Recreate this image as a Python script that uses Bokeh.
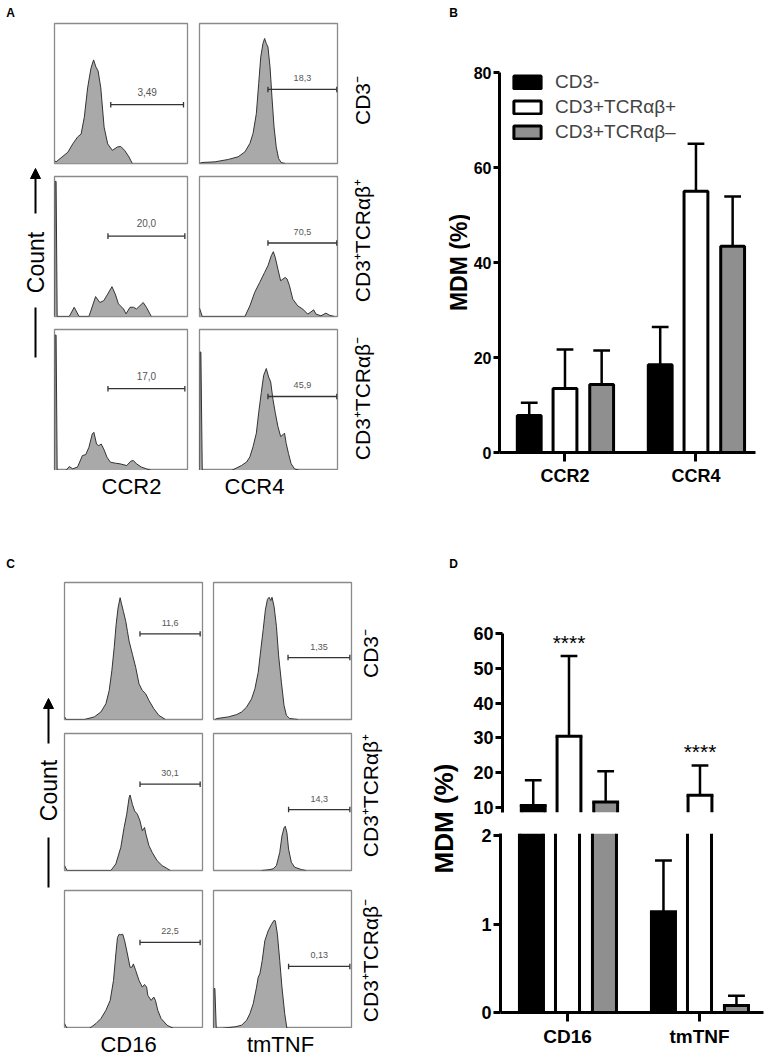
from bokeh.plotting import figure
from bokeh.models import Range1d, FixedTicker, Legend, LegendItem, Arrow, NormalHead, ColumnDataSource, Spacer
from bokeh.layouts import row, column
from bokeh.transform import dodge
from bokeh.core.properties import value
from bokeh.embed import file_html
from bokeh.resources import INLINE
import math

FONT = "Liberation Sans"

# ---------------- Panel A : flow histograms (channel fraction, normalised count) ----------------
a_ccr2_cd3neg_x = [0, .012, .10, .137, .174, .20, .224, .249, .274, .294, .311, .328, .348, .373, .40, .435, .473, .498, .527, .56, .585]
a_ccr2_cd3neg_y = [.02, .012, .08, .14, .19, .21, .33, .54, .68, .74, .69, .66, .54, .26, .14, .094, .118, .122, .094, .047, 0]
a_ccr4_cd3neg_x = [0, .017, .113, .209, .28, .329, .365, .388, .412, .429, .444, .46, .472, .484, .496, .511, .525, .54, .556, .573, .592, .62]
a_ccr4_cd3neg_y = [0, .007, .012, .029, .048, .083, .143, .214, .357, .571, .762, .857, .893, .857, .833, .69, .476, .262, .119, .036, .007, 0]
a_ccr2_pos_x = [0, .004, .012, .02, .111, .148, .185, .259, .309, .341, .37, .40, .432, .457, .481, .519, .538, .568, .593, .617, .667, .691, .728]
a_ccr2_pos_y = [0, .965, .965, 0, 0, .066, 0, 0, .142, .10, .113, .16, .213, .16, .09, .054, .019, .066, .066, .054, .10, .066, 0]
a_ccr4_pos_x = [0, .02, .329, .365, .40, .436, .472, .496, .52, .535, .549, .568, .588, .604, .621, .635, .652, .676, .712, .748, .784, .808, .827, .844, .88, .916, .94, .976]
a_ccr4_pos_y = [.06, 0, 0, .076, .172, .243, .315, .363, .434, .463, .422, .339, .255, .267, .279, .267, .22, .124, .076, .053, .017, .033, .048, .017, .005, .024, .01, 0]
a_ccr2_neg_x = [0, .004, .012, .02, .086, .111, .136, .173, .21, .235, .259, .284, .296, .316, .333, .351, .37, .395, .42, .457, .494, .543, .573, .593, .617, .654, .691, .728]
a_ccr2_neg_y = [0, .96, .96, 0, 0, .028, .012, .024, .106, .113, .165, .259, .271, .188, .176, .188, .153, .094, .059, .052, .047, .035, .066, .071, .047, .024, .012, 0]
a_ccr4_neg_x = [0, .004, .01, .02, .233, .257, .305, .341, .365, .388, .412, .429, .448, .465, .484, .501, .516, .532, .549, .568, .588, .604, .616, .628, .645, .664, .688, .724]
a_ccr4_neg_y = [0, .84, .84, 0, 0, .012, .036, .06, .096, .169, .265, .41, .554, .675, .723, .663, .627, .506, .41, .313, .241, .253, .265, .193, .12, .048, .012, 0]

# gates: [start, end, height] and gate percentages
a_gates = [[.423, .97, .42], [.496, .995, .529],
           [.402, .98, .574], [.496, .995, .525],
           [.402, .98, .58], [.496, .995, .525]]
a_gate_labels = ["3,49", "18,3", "20,0", "70,5", "17,0", "45,9"]
a_markers = ["CCR2", "CCR4"]

# ---------------- Panel C : flow histograms ----------------
c_cd16_cd3neg_x = [0, .012, .144, .216, .264, .30, .324, .343, .36, .374, .388, .403, .412, .427, .444, .456, .468, .492, .516, .54, .564, .588, .612, .647, .683, .731]
c_cd16_cd3neg_y = [.02, 0, 0, .019, .055, .115, .212, .356, .524, .692, .813, .889, .849, .788, .716, .644, .572, .476, .38, .26, .212, .188, .139, .079, .031, 0]
c_tnf_cd3neg_x = [.012, .024, .108, .168, .204, .24, .276, .30, .324, .343, .36, .376, .391, .403, .415, .424, .439, .456, .472, .492, .511, .528, .552, .612]
c_tnf_cd3neg_y = [0, .007, .019, .036, .055, .091, .151, .224, .344, .512, .656, .80, .877, .892, .868, .892, .825, .68, .464, .272, .103, .031, .007, 0]
c_cd16_pos_x = [0, .019, .336, .372, .408, .432, .451, .468, .475, .492, .508, .528, .547, .564, .58, .59, .612, .635, .671, .707, .736, .767]
c_cd16_pos_y = [.036, 0, 0, .048, .169, .314, .411, .531, .551, .483, .435, .411, .362, .29, .314, .266, .181, .133, .072, .036, .019, 0]
c_tnf_pos_x = [.348, .396, .432, .456, .48, .496, .511, .52, .532, .544, .564, .588, .636, .671]
c_tnf_pos_y = [0, .005, .012, .036, .132, .251, .311, .323, .275, .156, .06, .024, .007, 0]
c_cd16_neg_x = [0, .019, .18, .228, .264, .30, .331, .355, .372, .384, .396, .408, .422, .436, .456, .475, .489, .499, .516, .54, .564, .58, .595, .604, .628, .647, .659, .676, .70, .743, .791]
c_cd16_neg_y = [.036, 0, 0, .036, .072, .132, .204, .348, .54, .66, .683, .679, .683, .635, .54, .444, .444, .468, .42, .348, .30, .319, .30, .24, .204, .228, .204, .132, .072, .024, 0]
c_tnf_neg_x = [0, .003, .01, .02, .06, .108, .156, .204, .24, .264, .288, .312, .324, .336, .353, .372, .396, .42, .439, .448, .463, .48, .496, .516, .532]
c_tnf_neg_y = [0, .29, .29, 0, 0, .007, .012, .024, .06, .108, .18, .30, .372, .396, .492, .636, .707, .755, .784, .78, .683, .492, .30, .108, 0]

c_gates = [[.547, .983, .625], [.54, .988, .452],
           [.547, .983, .63], [.544, .988, .445],
           [.547, .983, .624], [.544, .988, .45]]
c_gate_labels = ["11,6", "1,35", "30,1", "14,3", "22,5", "0,13"]
c_markers = ["CD16", "tmTNF"]

row_labels = ["CD3\u207b", "CD3\u207aTCR\u03b1\u03b2\u207a", "CD3\u207aTCR\u03b1\u03b2\u207b"]

# ---------------- Panel B : bar chart ----------------
b_markers = ["CCR2", "CCR4"]
b_cd3neg = [7.8, 18.5]
b_cd3neg_sd = [2.7, 7.9]
b_tcrpos = [13.5, 55.0]
b_tcrpos_sd = [8.2, 10.0]
b_tcrneg = [14.3, 43.4]
b_tcrneg_sd = [7.2, 10.5]
b_yticks = [0, 20, 40, 60, 80]

# ---------------- Panel D : broken-axis bar chart ----------------
d_markers = ["CD16", "tmTNF"]
d_cd3neg = [10.6, 1.14]
d_cd3neg_sd = [7.2, 0.58]
d_tcrpos = [30.5, 13.5]
d_tcrpos_sd = [23.0, 8.6]
d_tcrneg = [11.6, 0.08]
d_tcrneg_sd = [8.8, 0.11]
d_stars = ["****", "****"]
d_upper_ticks = [10, 20, 30, 40, 50, 60]
d_lower_ticks = [0, 1, 2]

series_labels = ["CD3-", "CD3+TCR\u03b1\u03b2+", "CD3+TCR\u03b1\u03b2\u2013"]
series_colors = ["#000000", "#ffffff", "#8f8f8f"]


def base_fig(w, h, xr, yr, bl=0, br=0, bt=0, bb=0, xaxis=None, yaxis=None):
    p = figure(width=w, height=h, x_range=xr, y_range=yr, x_axis_type=xaxis, y_axis_type=yaxis,
               toolbar_location=None, output_backend="svg", title=None,
               min_border_left=bl, min_border_right=br, min_border_top=bt, min_border_bottom=bb)
    p.outline_line_color = None
    try:
        p.frame_align = False
    except Exception:
        pass
    return p


def txt(p, x, y, s, size, bold=False, angle=0.0, align="center", color="black"):
    p.text(x=[x], y=[y], text=[s], angle=angle, text_font=value(FONT), text_font_size=f"{size}px",
           text_font_style="bold" if bold else "normal", text_align=align, text_baseline="middle",
           text_color=color)


def hist_fig(xs, ys, gate, glabel, fw, fh, br, bb, gsize, goff):
    p = base_fig(fw + 1 + br, fh + 1 + bb, Range1d(0, 1), Range1d(0, 1), bl=1, br=br, bt=1, bb=bb)
    p.outline_line_color = "#8a8a8a"
    p.outline_line_width = 1.3
    p.varea(x=xs, y1=0, y2=ys, fill_color="#a9a9a9")
    p.line(x=xs, y=ys, line_color="#333333", line_width=1)
    g0, g1, gy = gate
    p.segment(x0=[g0], y0=[gy], x1=[g1], y1=[gy], line_color="#333333", line_width=1.3)
    p.segment(x0=[g0, g1], y0=[gy - 0.02] * 2, x1=[g0, g1], y1=[gy + 0.02] * 2,
              line_color="#333333", line_width=1.3)
    p.text(x=[(g0 + g1) / 2], y=[gy], text=[glabel], text_font=value(FONT), text_font_size=f"{gsize}px",
           text_color="#555555", text_align="center", text_baseline="middle", y_offset=goff)
    return p


def count_arrow(p, x, tip, line_end, text_y, low0, low1):
    p.add_layout(Arrow(end=NormalHead(size=10, fill_color="black", line_color="black", line_width=1),
                       x_start=x, y_start=line_end, x_end=x, y_end=tip, line_width=2, line_color="black"))
    p.segment(x0=[x], y0=[low0], x1=[x], y1=[low1], line_width=2, line_color="black")
    txt(p, x, text_y, "Count", 23, angle=math.pi / 2)


def style_axis(ax, size, tick_out=7, standoff=2):
    ax.axis_line_width = 3
    ax.axis_line_color = "black"
    ax.major_tick_line_width = 3
    ax.major_tick_line_color = "black"
    ax.major_tick_out = tick_out
    ax.major_tick_in = 0
    ax.minor_tick_line_color = None
    ax.major_label_text_font = FONT
    ax.major_label_text_font_style = "bold"
    ax.major_label_text_font_size = f"{size}px"
    ax.major_label_text_color = "black"
    ax.major_label_standoff = standoff


# ================= Panel A =================
a_data = [(a_ccr2_cd3neg_x, a_ccr2_cd3neg_y), (a_ccr4_cd3neg_x, a_ccr4_cd3neg_y),
          (a_ccr2_pos_x, a_ccr2_pos_y), (a_ccr4_pos_x, a_ccr4_pos_y),
          (a_ccr2_neg_x, a_ccr2_neg_y), (a_ccr4_neg_x, a_ccr4_neg_y)]
a_cols = [(133, 11, 10, -13), (138, 8, 9, -11)]
a_rows = [(140, 12), (140, 12), (141, 0)]
a_hist_rows = []
for r, (fh, bb) in enumerate(a_rows):
    figs = []
    for c, (fw, br, gs, go) in enumerate(a_cols):
        k = r * 2 + c
        figs.append(hist_fig(a_data[k][0], a_data[k][1], a_gates[k], a_gate_labels[k], fw, fh, br, bb, gs, go))
    a_hist_rows.append(row(*figs))

a_left = base_fig(53, 500, Range1d(0, 53), Range1d(500, 0))
txt(a_left, 10, 12, "A", 12, bold=True)
count_arrow(a_left, 35, 168, 213, 262, 307, 357)

a_bottom = base_fig(292, 30, Range1d(53, 345), Range1d(500, 470))
for name, xc in zip(a_markers, [131, 254]):
    txt(a_bottom, xc, 486, name, 22)

a_right = base_fig(53, 500, Range1d(345, 398), Range1d(500, 0))
for lab, yc in zip(row_labels, [100, 240, 398]):
    txt(a_right, 362, yc, lab, 21, angle=math.pi / 2)

panel_a = row(a_left, column(Spacer(width=292, height=22), *a_hist_rows, a_bottom), a_right)

# ================= Panel C =================
c_data = [(c_cd16_cd3neg_x, c_cd16_cd3neg_y), (c_tnf_cd3neg_x, c_tnf_cd3neg_y),
          (c_cd16_pos_x, c_cd16_pos_y), (c_tnf_pos_x, c_tnf_pos_y),
          (c_cd16_neg_x, c_cd16_neg_y), (c_tnf_neg_x, c_tnf_neg_y)]
c_cols = [(138, 10, 9, -11), (138, 5, 9, -11)]
c_rows = [(137, 13), (137, 19), (138, 0)]
c_hist_rows = []
for r, (fh, bb) in enumerate(c_rows):
    figs = []
    for c, (fw, br, gs, go) in enumerate(c_cols):
        k = r * 2 + c
        figs.append(hist_fig(c_data[k][0], c_data[k][1], c_gates[k], c_gate_labels[k], fw, fh, br, bb, gs, go))
    c_hist_rows.append(row(*figs))

BOTTOM = 1059
c_left = base_fig(63, BOTTOM - 500, Range1d(0, 63), Range1d(BOTTOM, 500))
txt(c_left, 10, 563, "C", 12, bold=True)
count_arrow(c_left, 48, 698, 743, 790, 837, 887)

c_bottom = base_fig(293, BOTTOM - 1028, Range1d(63, 356), Range1d(BOTTOM, 1028))
for name, xc in zip(c_markers, [128, 280]):
    txt(c_bottom, xc, 1044, name, 22)

c_right = base_fig(42, BOTTOM - 500, Range1d(356, 398), Range1d(BOTTOM, 500))
for lab, yc in zip(row_labels, [653, 795, 960]):
    txt(c_right, 370, yc, lab, 21, angle=math.pi / 2)

panel_c = row(c_left, column(Spacer(width=293, height=81), *c_hist_rows, c_bottom), c_right)

# ================= Panel B =================
offsets = [-0.273, 0.0, 0.28]
bar_w = 0.182
cap_half = 0.064

b_src = ColumnDataSource(dict(
    x=[1, 2],
    m0=b_cd3neg, t0=[m + s for m, s in zip(b_cd3neg, b_cd3neg_sd)],
    m1=b_tcrpos, t1=[m + s for m, s in zip(b_tcrpos, b_tcrpos_sd)],
    m2=b_tcrneg, t2=[m + s for m, s in zip(b_tcrneg, b_tcrneg_sd)],
))

b_strip = base_fig(72, 500, Range1d(398, 470), Range1d(500, 0))
txt(b_strip, 453, 12, "B", 12, bold=True)
txt(b_strip, 458, 262, "MDM (%)", 23, bold=True, angle=math.pi / 2)

pB = base_fig(295, 500, Range1d(0.5, 0.5 + 258 / 132), Range1d(0, 80), bl=27, br=10, bt=72, bb=48,
              xaxis="linear", yaxis="linear")
pB.xgrid.visible = False
pB.ygrid.visible = False

b_rends = []
for i, off in enumerate(offsets):
    pB.segment(x0=dodge("x", off, range=pB.x_range), y0=f"m{i}", x1=dodge("x", off, range=pB.x_range),
               y1=f"t{i}", source=b_src, line_width=2.5, line_color="black")
    pB.segment(x0=dodge("x", off - cap_half, range=pB.x_range), y0=f"t{i}",
               x1=dodge("x", off + cap_half, range=pB.x_range), y1=f"t{i}",
               source=b_src, line_width=2.5, line_color="black")
    b_rends.append(pB.vbar(x=dodge("x", off, range=pB.x_range), top=f"m{i}", bottom=0, width=bar_w,
                           source=b_src, fill_color=series_colors[i], line_color="black", line_width=3))

style_axis(pB.yaxis[0], 16, tick_out=6, standoff=2)
pB.yaxis[0].ticker = FixedTicker(ticks=b_yticks)
style_axis(pB.xaxis[0], 18, tick_out=9, standoff=4)
pB.xaxis[0].ticker = FixedTicker(ticks=[1, 2])
pB.xaxis[0].major_label_overrides = {1: b_markers[0], 2: b_markers[1]}

legend = Legend(items=[LegendItem(label=series_labels[i], renderers=[b_rends[i]]) for i in range(3)],
                location=(11, 309), padding=0, margin=0, spacing=3, glyph_width=34, glyph_height=16,
                label_standoff=11, label_height=20, label_text_font=FONT, label_text_font_size="19px",
                border_line_color=None, background_fill_alpha=0)
pB.add_layout(legend)

panel_b = row(b_strip, pB)

# ================= Panel D =================
d_means = [d_cd3neg, d_tcrpos, d_tcrneg]
d_sds = [d_cd3neg_sd, d_tcrpos_sd, d_tcrneg_sd]


def broken_bars(p, lo, hi):
    """Bars of one segment of the broken axis: edges only where the bar really ends."""
    for i, off in enumerate(offsets):
        means, sds = d_means[i], d_sds[i]
        vis = [j for j in range(len(means)) if means[j] > lo]
        body = ColumnDataSource(dict(x=[j + 1 for j in vis], b=[max(0, lo) for j in vis],
                                     t=[min(means[j], hi) for j in vis]))
        p.vbar(x=dodge("x", off, range=p.x_range), bottom="b", top="t", width=bar_w, source=body,
               fill_color=series_colors[i], line_color=None)
        for side in (-bar_w / 2, bar_w / 2):
            p.segment(x0=dodge("x", off + side, range=p.x_range), y0="b",
                      x1=dodge("x", off + side, range=p.x_range), y1="t", source=body,
                      line_width=3, line_color="black")
        tv = [j for j in vis if means[j] <= hi]
        tops = ColumnDataSource(dict(x=[j + 1 for j in tv], y=[means[j] for j in tv]))
        p.segment(x0=dodge("x", off - bar_w / 2, range=p.x_range), y0="y",
                  x1=dodge("x", off + bar_w / 2, range=p.x_range), y1="y", source=tops,
                  line_width=3, line_color="black", line_cap="square")
        ev = [j for j in range(len(means)) if means[j] + sds[j] > lo and means[j] < hi]
        errs = ColumnDataSource(dict(x=[j + 1 for j in ev], y0=[max(means[j], lo) for j in ev],
                                     y1=[min(means[j] + sds[j], hi) for j in ev]))
        p.segment(x0=dodge("x", off, range=p.x_range), y0="y0", x1=dodge("x", off, range=p.x_range),
                  y1="y1", source=errs, line_width=2.5, line_color="black")
        cv = [j for j in range(len(means)) if lo <= means[j] + sds[j] <= hi]
        caps = ColumnDataSource(dict(x=[j + 1 for j in cv], y=[means[j] + sds[j] for j in cv]))
        p.segment(x0=dodge("x", off - cap_half, range=p.x_range), y0="y",
                  x1=dodge("x", off + cap_half, range=p.x_range), y1="y", source=caps,
                  line_width=2.5, line_color="black")


d_strip = base_fig(72, BOTTOM - 500, Range1d(398, 470), Range1d(BOTTOM, 500))
txt(d_strip, 453, 563, "D", 12, bold=True)
txt(d_strip, 443, 818, "MDM (%)", 26, bold=True, angle=math.pi / 2)

d_frame_w = 263
d_x0 = 1 - 67 / 132
d_xr = Range1d(d_x0, d_x0 + d_frame_w / 132)
d_up_lo = 60 - 179 / 3.48
d_low_hi = 179 / 88.4
BREAK_PAD = 7

pDt = base_fig(295, 312 + BREAK_PAD, d_xr, Range1d(d_up_lo, 60), bl=30, br=2, bt=133, bb=BREAK_PAD,
               xaxis=None, yaxis="linear")
pDt.ygrid.visible = False
broken_bars(pDt, d_up_lo, 60)
star_src = ColumnDataSource(dict(x=[1, 2], y=[m + s for m, s in zip(d_tcrpos, d_tcrpos_sd)], stars=d_stars))
pDt.text(x=dodge("x", offsets[1], range=d_xr), y="y", text="stars", source=star_src, text_font=value(FONT),
         text_font_size="21px", text_align="center", text_baseline="middle", y_offset=-14, text_color="black")
style_axis(pDt.yaxis[0], 18, tick_out=7, standoff=2)
pDt.yaxis[0].ticker = FixedTicker(ticks=d_upper_ticks)

pDb = base_fig(295, BOTTOM - 500 - 312 - 21 + BREAK_PAD, d_xr, Range1d(0, d_low_hi), bl=30, br=2,
               bt=BREAK_PAD, bb=BOTTOM - 1012, xaxis="linear", yaxis="linear")
pDb.xgrid.visible = False
pDb.ygrid.visible = False
broken_bars(pDb, 0, d_low_hi)
style_axis(pDb.yaxis[0], 18, tick_out=7, standoff=2)
pDb.yaxis[0].ticker = FixedTicker(ticks=d_lower_ticks)
style_axis(pDb.xaxis[0], 19, tick_out=9, standoff=4)
pDb.xaxis[0].ticker = FixedTicker(ticks=[1, 2])
pDb.xaxis[0].major_label_overrides = {1: d_markers[0], 2: d_markers[1]}

panel_d = row(d_strip, column(pDt, Spacer(width=295, height=21 - 2 * BREAK_PAD), pDb))

layout = column(row(panel_a, panel_b), row(panel_c, panel_d))

with open("out.html", "w") as f:
    f.write(file_html(layout, INLINE))
